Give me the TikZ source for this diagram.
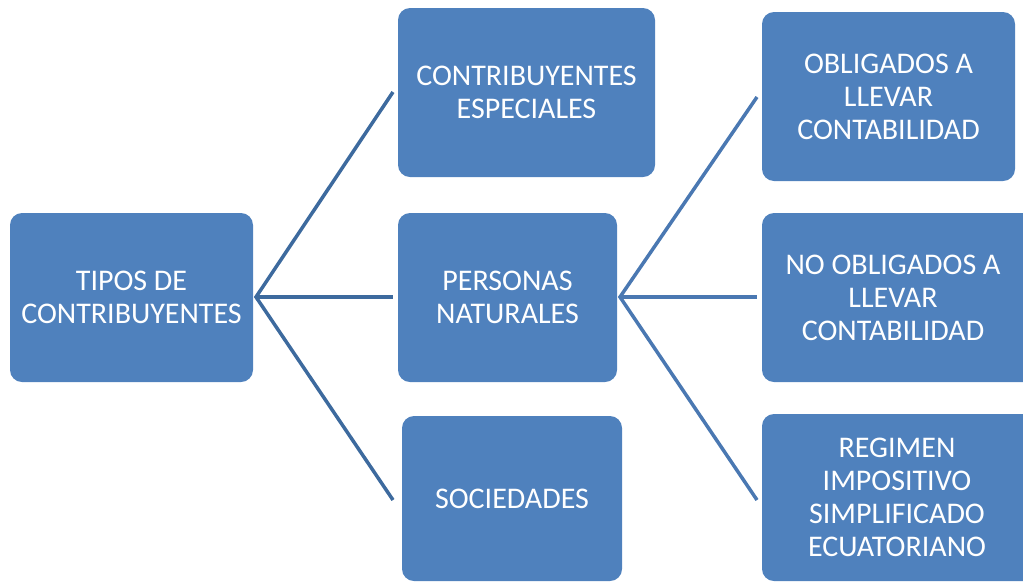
\documentclass[tikz,border=0pt]{standalone}
\usepackage{fontspec}
\setmainfont{Carlito}
\definecolor{boxblue}{HTML}{4F81BD}
\definecolor{lineA}{HTML}{3D6A9E}
\definecolor{lineB}{HTML}{4A78B2}
\begin{document}
\begin{tikzpicture}[x=1pt,y=-1pt,
  box/.style={fill=boxblue, draw=none, rounded corners=12pt},
  lbl/.style={text=white, align=center, font=\fontsize{30}{33}\selectfont},
  linkA/.style={draw=lineA, line width=3.5pt},
  linkB/.style={draw=lineB, line width=3.5pt}]
\useasboundingbox (0,0) rectangle (1023,582);
\path[box] (10,213) rectangle (253,382);
\node[lbl] (tipos) at (131.5,297.5) {TIPOS DE\\CONTRIBUYENTES};
\path[box] (398,8) rectangle (655,177);
\node[lbl] (esp) at (526.5,92.5) {CONTRIBUYENTES\\ESPECIALES};
\path[box] (398,213) rectangle (617,382);
\node[lbl] (pn) at (507.5,297.5) {PERSONAS\\NATURALES};
\path[box] (402,416) rectangle (622,581);
\node[lbl] (soc) at (512,499) {SOCIEDADES};
\path[box] (762,12) rectangle (1015,181);
\node[lbl] (obl) at (888.5,96.5) {OBLIGADOS A\\LLEVAR\\CONTABILIDAD};
\path[box] (762,213) rectangle (1035,382);
\node[lbl] (nobl) at (893,297.5) {NO OBLIGADOS A\\LLEVAR\\CONTABILIDAD};
\path[box] (762,414) rectangle (1035,581);
\node[lbl] (rim) at (897,497.5) {REGIMEN\\IMPOSITIVO\\SIMPLIFICADO\\ECUATORIANO};
\coordinate (s1) at (256,297);
\coordinate (e1) at (393,92);
\coordinate (e2) at (393,297);
\coordinate (e3) at (393,500);
\coordinate (s2) at (620,297);
\coordinate (f1) at (757,97);
\coordinate (f2) at (757,297);
\coordinate (f3) at (757,500);
\draw[linkA] (e1) -- (s1) -- (e3);
\draw[linkA] (s1) -- (e2);
\draw[linkB] (f1) -- (s2) -- (f3);
\draw[linkB] (s2) -- (f2);
\end{tikzpicture}
\end{document}
